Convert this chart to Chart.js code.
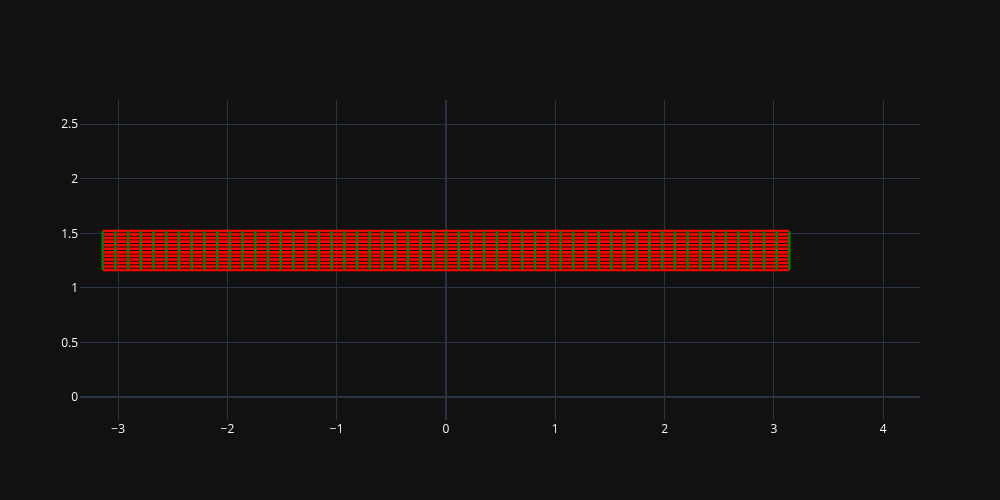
<!DOCTYPE html>
<html>
<head>
<meta charset="utf-8">
<script src="https://cdn.jsdelivr.net/npm/chart.js@4/dist/chart.umd.min.js"></script>
<style>
  html, body { margin: 0; padding: 0; background: #111111; }
  canvas { display: block; }
</style>
</head>
<body>
<canvas id="c" width="1000" height="500"></canvas>
<script>
// Angle grid values (x): -pi .. pi
const thetaValues = [
  -3.1416, -3.0252, -2.9089, -2.7925, -2.6762, -2.5598, -2.4435, -2.3271, -2.2108, -2.0944,
  -1.9780, -1.8617, -1.7453, -1.6290, -1.5126, -1.3963, -1.2799, -1.1636, -1.0472, -0.9308,
  -0.8145, -0.6981, -0.5818, -0.4654, -0.3491, -0.2327, -0.1164, 0.0000, 0.1164, 0.2327,
  0.3491, 0.4654, 0.5818, 0.6981, 0.8145, 0.9308, 1.0472, 1.1636, 1.2799, 1.3963,
  1.5126, 1.6290, 1.7453, 1.8617, 1.9780, 2.0944, 2.2108, 2.3271, 2.4435, 2.5598,
  2.6762, 2.7925, 2.9089, 3.0252, 3.1416
];
// Radius levels (y)
const radiusValues = [1.163, 1.195, 1.228, 1.260, 1.293, 1.325, 1.358, 1.390, 1.423, 1.455, 1.488, 1.520];
// Tick values
const xTickValues = [-3, -2, -1, 0, 1, 2, 3, 4];
const yTickValues = [0, 0.5, 1, 1.5, 2, 2.5];

const datasets = [];
// green vertical lines (listed first so they are drawn on top)
thetaValues.forEach(t => {
  datasets.push({
    data: radiusValues.map(r => ({x: t, y: r})),
    borderColor: '#008000', borderWidth: 2.5, showLine: true, pointRadius: 0, fill: false
  });
});
// red horizontal lines
radiusValues.forEach(r => {
  datasets.push({
    data: thetaValues.map(t => ({x: t, y: r})),
    borderColor: '#ff0000', borderWidth: 2.6, showLine: true, pointRadius: 0, fill: false
  });
});

Chart.defaults.font.family = '"Open Sans", verdana, arial, sans-serif';
Chart.defaults.font.size = 12;
Chart.defaults.color = '#f2f5fa';

const gridColor = '#283442';
const fmt = v => String(v).replace('-', '\u2212');

new Chart(document.getElementById('c'), {
  type: 'scatter',
  data: { datasets },
  options: {
    responsive: false,
    devicePixelRatio: 1,
    animation: false,
    layout: { padding: { left: 0, right: 80, top: 100, bottom: 0 } },
    plugins: { legend: { display: false }, tooltip: { enabled: false } },
    scales: {
      x: {
        type: 'linear', min: -3.349, max: 4.337,
        afterBuildTicks: a => { a.ticks = xTickValues.map(v => ({value: v})); },
        afterFit: a => { a.height = 80; },
        border: { display: false },
        grid: { color: gridColor, drawTicks: false,
                lineWidth: c => (c.tick && c.tick.value === 0) ? 2 : 1 },
        ticks: { padding: 2, maxRotation: 0, callback: v => fmt(v) }
      },
      y: {
        type: 'linear', min: -0.21, max: 2.72,
        afterBuildTicks: a => { a.ticks = yTickValues.map(v => ({value: v})); },
        afterFit: a => { a.width = 80; },
        border: { display: false },
        grid: { color: gridColor, drawTicks: false,
                lineWidth: c => (c.tick && c.tick.value === 0) ? 2 : 1 },
        ticks: { padding: 2, labelOffset: 1, callback: v => fmt(v) }
      }
    }
  }
});
</script>
</body>
</html>
